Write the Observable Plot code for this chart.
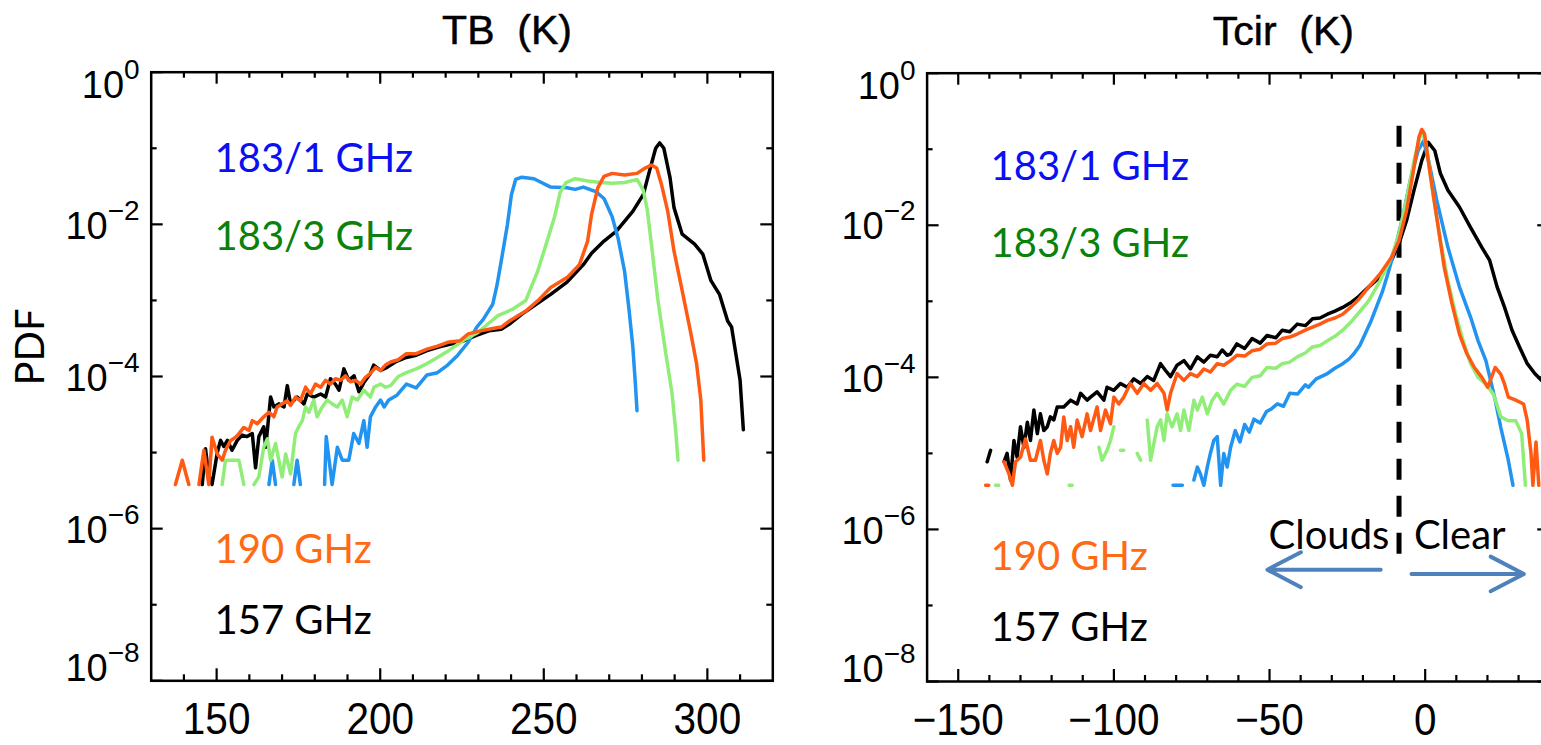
<!DOCTYPE html>
<html><head><meta charset="utf-8">
<script src="https://cdn.jsdelivr.net/npm/d3@7"></script>
<script src="https://cdn.jsdelivr.net/npm/@observablehq/plot@0.6"></script>
<style>
html,body{margin:0;padding:0;background:#fff;overflow:hidden;}
#wrap{position:relative;width:1541px;height:745px;overflow:hidden;background:#fff;}
#wrap svg{position:absolute;top:0;}
</style></head><body><div id="wrap"></div>
<script>
// ---- DATA: [temperature (K), log10(PDF)] pairs; null = gap; F = lowest plotted value
const F = -5.42;
const seriesNames = ["157 GHz", "183/1 GHz", "183/3 GHz", "190 GHz"];

// Left panel: TB (K)
const tb_157 = [[145.6,F],[146.6,-4.95],[147.6,-5.30],[148.6,F],[150.2,-5.00],[151.2,-4.84],[152.2,-4.92],[153.3,-4.84],[154.7,-4.97],[156.3,-4.84],[157.8,-4.77],[159.3,-4.79],[160.9,-4.75],[161.9,-5.20],[162.9,-4.79],[164.4,-4.66],[165.0,-4.93],[166.5,-4.27],[167.5,-4.40],[169.0,-4.36],[170.6,-4.40],[171.6,-4.12],[172.6,-4.36],[174.6,-4.27],[176.7,-4.36],[177.7,-4.23],[179.7,-4.27],[181.8,-4.23],[183.3,-4.27],[184.8,-4.03],[186.3,-4.10],[187.4,-4.18],[188.9,-3.90],[190.4,-4.05],[192.0,-3.99],[193.5,-4.20],[195.0,-4.08],[197.0,-3.96],[198.0,-3.85],[200.1,-3.92],[202.1,-3.88],[205.0,-3.80],[208.0,-3.75],[211.0,-3.72],[214.3,-3.66],[218.1,-3.61],[221.9,-3.57],[225.6,-3.53],[229.4,-3.46],[233.2,-3.40],[237.0,-3.38],[239.5,-3.31],[243.3,-3.18],[247.0,-3.07],[252.1,-2.92],[257.1,-2.76],[262.1,-2.53],[264.6,-2.38],[268.4,-2.22],[272.2,-2.09],[277.2,-1.83],[280.4,-1.61],[282.3,-1.30],[284.2,-1.00],[285.4,-0.93],[286.7,-1.00],[288.6,-1.39],[289.8,-1.78],[292.3,-2.13],[296.1,-2.26],[298.6,-2.39],[301.1,-2.74],[303.7,-2.92],[306.2,-3.27],[307.4,-3.35],[308.7,-3.70],[310.0,-4.05],[311.0,-4.70]];
const tb_190 = [[137.4,F],[139.5,-5.10],[141.5,F],null,[144.6,F],[146.1,-4.97],[147.6,F],[148.6,-4.80],[150.2,-5.02],[151.7,-5.10],[152.7,-4.97],[154.3,-4.84],[155.8,-4.80],[156.8,-4.75],[158.3,-4.67],[159.9,-4.71],[160.9,-4.58],[162.4,-4.62],[164.4,-4.53],[166.0,-4.47],[167.5,-4.53],[168.5,-4.40],[170.0,-4.36],[171.6,-4.32],[172.6,-4.38],[174.1,-4.27],[175.6,-4.32],[177.2,-4.14],[178.7,-4.23],[180.2,-4.10],[181.8,-4.14],[183.3,-4.05],[184.8,-4.10],[186.3,-4.03],[187.9,-4.05],[189.4,-3.99],[190.9,-4.07],[192.5,-4.05],[194.0,-4.10],[195.5,-4.01],[197.0,-3.96],[198.6,-3.88],[200.1,-3.92],[201.6,-3.85],[203.2,-3.81],[205.5,-3.78],[208.0,-3.70],[211.0,-3.70],[214.3,-3.64],[217.5,-3.60],[220.6,-3.55],[224.4,-3.53],[226.9,-3.44],[230.7,-3.40],[234.4,-3.37],[237.0,-3.35],[239.5,-3.27],[244.5,-3.14],[248.3,-3.00],[252.1,-2.83],[257.1,-2.70],[260.9,-2.53],[263.4,-2.22],[264.6,-1.87],[266.5,-1.52],[268.4,-1.37],[270.9,-1.33],[274.7,-1.35],[278.5,-1.33],[281.0,-1.26],[282.9,-1.22],[284.5,-1.26],[286.0,-1.48],[287.9,-1.83],[289.8,-2.35],[292.3,-2.87],[294.8,-3.40],[296.7,-3.83],[298.0,-4.31],[298.9,-5.10]];
const tb_183_3 = [[151.7,F],[152.7,-5.10],[154.8,-5.10],[156.8,-5.10],[158.3,F],null,[161.4,F],[162.9,-5.32],[164.4,-4.93],[165.5,-4.82],[166.5,-5.10],[168.0,-4.88],[169.0,-5.10],[170.0,-5.32],[171.1,-5.02],[172.6,-5.28],[174.1,-4.75],[175.1,-4.66],[176.2,-4.58],[177.2,-4.40],[178.2,-4.47],[179.7,-4.31],[180.7,-4.53],[182.3,-4.40],[183.8,-4.31],[185.3,-4.36],[186.9,-4.40],[188.4,-4.31],[189.9,-4.53],[191.4,-4.27],[193.0,-4.31],[195.0,-4.18],[197.0,-4.27],[198.1,-4.14],[200.1,-4.10],[201.6,-4.14],[203.2,-4.12],[205.5,-4.00],[208.0,-3.95],[211.0,-3.90],[214.3,-3.83],[217.5,-3.75],[220.9,-3.66],[225.6,-3.52],[229.9,-3.42],[233.2,-3.30],[236.0,-3.20],[240.7,-3.11],[244.5,-3.00],[248.1,-2.62],[250.8,-2.25],[253.3,-1.90],[255.0,-1.58],[256.8,-1.45],[259.6,-1.40],[263.4,-1.43],[267.2,-1.45],[271.0,-1.46],[274.7,-1.45],[278.5,-1.41],[280.4,-1.55],[281.6,-1.80],[282.9,-2.26],[284.8,-2.97],[287.3,-3.70],[289.2,-4.22],[290.4,-4.75],[291.0,-5.10]];
const tb_183_1 = [[166.0,F],[167.0,-5.10],[168.0,F],null,[173.6,F],[174.6,-5.10],[175.6,F],null,[183.0,F],[183.5,-4.79],[185.3,F],[186.9,-4.93],[188.4,-5.10],[190.4,-5.10],[191.9,-4.75],[193.5,-4.88],[195.0,-4.58],[196.0,-4.93],[197.0,-4.53],[198.6,-4.40],[200.1,-4.31],[201.2,-4.40],[202.6,-4.31],[205.0,-4.25],[208.0,-4.10],[211.0,-4.15],[214.3,-3.98],[217.5,-3.95],[220.6,-3.85],[223.7,-3.72],[226.9,-3.55],[229.5,-3.35],[231.5,-3.25],[234.4,-3.05],[235.7,-2.80],[237.0,-2.48],[238.9,-2.00],[240.1,-1.61],[241.4,-1.41],[243.3,-1.38],[247.0,-1.40],[252.1,-1.51],[257.1,-1.52],[259.6,-1.54],[262.1,-1.51],[265.9,-1.57],[268.4,-1.66],[270.9,-1.90],[272.8,-2.20],[274.7,-2.62],[276.0,-3.10],[277.2,-3.60],[278.0,-4.10],[278.5,-4.45]];

// Right panel: Tcir (K)
const tcir_157 = [[-140.7,-5.11],[-139.6,-4.96],null,[-135.3,-5.11],[-134.3,-5.00],[-133.2,-5.35],[-132.1,-4.83],[-131.1,-5.05],[-130.0,-4.65],[-128.9,-4.92],[-127.8,-4.59],[-126.8,-4.83],[-125.7,-4.43],[-124.6,-4.74],[-123.6,-4.48],[-122.5,-4.70],[-121.4,-4.65],[-120.4,-4.52],[-119.3,-4.56],[-118.2,-4.39],[-116.1,-4.39],[-113.9,-4.30],[-111.8,-4.35],[-110.7,-4.21],[-108.6,-4.30],[-107.5,-4.26],[-105.4,-4.19],[-103.2,-4.30],[-102.2,-4.13],[-100.0,-4.17],[-97.9,-4.08],[-95.7,-4.13],[-93.6,-4.02],[-91.4,-4.08],[-89.3,-3.99],[-87.2,-4.04],[-85.0,-3.82],[-83.4,-3.91],[-81.8,-3.99],[-79.7,-3.84],[-77.5,-3.78],[-75.4,-3.89],[-73.2,-3.73],[-71.1,-3.80],[-69.0,-3.71],[-66.8,-3.73],[-65.2,-3.64],[-63.6,-3.71],[-62.5,-3.69],[-60.5,-3.56],[-58.0,-3.62],[-55.6,-3.49],[-53.0,-3.55],[-50.8,-3.45],[-48.0,-3.48],[-45.9,-3.38],[-43.5,-3.40],[-41.1,-3.30],[-38.5,-3.32],[-36.2,-3.23],[-33.8,-3.22],[-31.4,-3.17],[-29.0,-3.13],[-26.5,-3.08],[-24.0,-3.02],[-21.7,-2.95],[-18.1,-2.81],[-14.5,-2.68],[-10.8,-2.46],[-8.4,-2.24],[-6.0,-1.94],[-3.6,-1.54],[-1.1,-1.15],[1.0,-0.91],[3.1,-1.02],[4.9,-1.32],[7.3,-1.54],[11.0,-1.76],[14.6,-2.03],[18.2,-2.29],[20.7,-2.46],[23.1,-2.81],[25.5,-3.08],[27.9,-3.38],[30.3,-3.60],[32.8,-3.82],[35.2,-3.95],[37.4,-4.04],[40.0,-4.10]];
const tcir_190 = [[-141.2,F],[-140.2,F],null,[-135.3,-5.11],[-133.7,-5.27],[-132.6,F],[-131.6,-5.11],[-130.0,-5.05],[-128.4,-4.81],[-126.8,-5.09],[-125.2,-5.09],[-123.6,-4.83],[-122.5,-5.09],[-121.4,-5.27],[-120.4,-5.00],[-119.3,-4.83],[-118.2,-5.00],[-117.1,-4.92],[-116.1,-4.52],[-115.0,-4.83],[-113.9,-4.65],[-112.9,-4.92],[-111.8,-4.56],[-110.2,-4.78],[-108.6,-4.48],[-107.5,-4.70],[-105.4,-4.39],[-104.3,-4.70],[-102.7,-4.43],[-101.1,-4.61],[-100.0,-4.26],[-98.4,-4.35],[-96.8,-4.26],[-94.7,-4.08],[-92.5,-4.21],[-90.4,-4.08],[-88.2,-4.17],[-86.1,-4.08],[-83.9,-4.21],[-82.9,-4.43],[-81.8,-4.21],[-79.7,-3.95],[-77.5,-4.04],[-75.4,-3.95],[-73.2,-3.99],[-71.1,-3.89],[-69.0,-3.93],[-66.8,-3.82],[-64.7,-3.84],[-62.5,-3.78],[-60.5,-3.71],[-58.0,-3.72],[-55.6,-3.65],[-53.0,-3.63],[-50.8,-3.56],[-48.0,-3.55],[-45.9,-3.49],[-43.5,-3.47],[-41.1,-3.43],[-38.5,-3.38],[-36.2,-3.34],[-33.8,-3.30],[-31.4,-3.25],[-29.0,-3.22],[-26.5,-3.17],[-24.0,-3.08],[-21.7,-2.99],[-18.1,-2.81],[-14.5,-2.64],[-10.8,-2.42],[-8.4,-2.20],[-6.0,-1.81],[-3.6,-1.24],[-2.0,-0.84],[-1.1,-0.74],[-0.2,-0.80],[1.3,-1.24],[3.7,-1.89],[6.1,-2.55],[8.6,-3.03],[11.0,-3.43],[13.4,-3.69],[15.8,-3.87],[18.2,-4.00],[20.1,-4.13],[21.3,-4.00],[22.5,-3.87],[24.3,-3.96],[25.5,-4.09],[26.7,-4.26],[29.1,-4.30],[31.6,-4.35],[32.8,-4.57],[34.0,-5.00],[34.6,F],[35.6,-4.85],[36.5,F]];
const tcir_183_3 = [[-138.0,F],[-137.0,F],null,[-114.4,F],[-113.4,F],null,[-104.8,-4.92],[-103.8,-5.09],[-102.2,-4.96],[-101.1,-4.83],[-100.0,-4.65],null,[-97.9,-4.96],[-96.8,-4.96],null,[-92.5,-5.00],[-91.4,-5.09],null,[-89.3,-4.56],[-88.2,-5.09],[-86.1,-4.65],[-85.0,-4.56],[-83.9,-4.83],[-82.9,-4.48],[-81.3,-4.65],[-79.7,-4.48],[-78.6,-4.70],[-77.5,-4.43],[-75.9,-4.70],[-74.3,-4.30],[-73.2,-4.43],[-71.6,-4.26],[-70.0,-4.48],[-68.4,-4.30],[-66.8,-4.21],[-64.7,-4.35],[-63.6,-4.26],[-62.5,-4.17],[-60.5,-4.09],[-58.0,-4.12],[-55.6,-4.00],[-53.0,-3.98],[-50.8,-3.87],[-48.0,-3.88],[-45.9,-3.82],[-43.5,-3.80],[-41.1,-3.73],[-38.5,-3.68],[-36.2,-3.60],[-33.8,-3.58],[-31.4,-3.52],[-29.0,-3.46],[-26.5,-3.38],[-24.0,-3.28],[-21.7,-3.17],[-18.1,-2.99],[-14.5,-2.73],[-10.8,-2.42],[-8.4,-2.11],[-6.0,-1.67],[-3.6,-1.15],[-1.7,-0.84],[-0.9,-0.78],[0.3,-0.93],[2.5,-1.59],[4.9,-2.20],[7.3,-2.73],[9.8,-3.17],[12.2,-3.52],[14.6,-3.82],[17.0,-4.00],[19.5,-4.09],[21.9,-4.22],[24.3,-4.52],[26.7,-4.57],[29.1,-4.57],[31.0,-4.74],[32.2,F]];
const tcir_183_1 = [[-81.0,F],[-78.0,F],null,[-74.3,-5.35],[-73.2,-5.18],[-72.2,-5.27],[-71.1,F],[-70.0,-5.18],[-69.0,-5.00],[-67.9,-4.83],[-66.8,-4.78],[-65.7,F],[-64.7,-5.00],[-63.6,-5.18],[-62.5,-4.92],[-61.0,-4.70],[-59.5,-4.85],[-58.0,-4.62],[-56.5,-4.72],[-55.0,-4.55],[-53.0,-4.60],[-51.0,-4.45],[-49.6,-4.42],[-47.5,-4.35],[-45.5,-4.38],[-43.5,-4.21],[-41.0,-4.22],[-38.5,-4.10],[-37.5,-4.13],[-35.0,-4.02],[-31.4,-3.95],[-29.0,-3.88],[-26.5,-3.82],[-24.5,-3.76],[-22.9,-3.69],[-21.0,-3.58],[-19.3,-3.43],[-17.5,-3.27],[-15.7,-3.08],[-13.8,-2.88],[-12.0,-2.64],[-9.6,-2.29],[-7.2,-1.89],[-4.8,-1.41],[-2.3,-1.02],[-0.5,-0.89],[1.3,-1.19],[3.7,-1.67],[7.3,-2.29],[11.0,-2.81],[14.6,-3.21],[17.0,-3.52],[19.5,-3.78],[21.3,-4.09],[22.5,-4.30],[24.3,-4.66],[26.7,-5.09],[28.2,F]];

// Axis ticks
const tbMajorTicks = [150, 200, 250, 300];
const tbMinorTicks = [140, 160, 170, 180, 190, 210, 220, 230, 240, 260, 270, 280, 290, 310];
const tcirMajorTicks = [-150, -100, -50, 0];
const tcirMinorTicks = [-140, -130, -120, -110, -90, -80, -70, -60, -40, -30, -20, -10, 10, 20, 30];
const pdfMajorTicks = [1e-8, 1e-6, 1e-4, 1e-2, 1];
const pdfMinorTicks = [1e-7, 1e-5, 1e-3, 1e-1];

// Annotations (right panel)
const cloudClearThreshold = [-8.4];
const cloudClearArrows = [
  {x1: -14.3, y1: 2.95e-7, x2: -50.7, y2: 2.95e-7},
  {x1: -4.4, y1: 2.6e-7, x2: 31.7, y2: 2.6e-7}
];
const cloudClearLabels = ["Clouds", "Clear"];

// ---- STYLE
const lineColors = {"157 GHz": "#000000", "183/1 GHz": "#2094f0", "183/3 GHz": "#90ee78", "190 GHz": "#ff5a14"};
const legendColors = {"183/1 GHz": "#0a10f2", "183/3 GHz": "#0a820a", "190 GHz": "#ff6a14", "157 GHz": "#000000"};
const legendOrder = ["183/1 GHz", "183/3 GHz", "190 GHz", "157 GHz"];

const toRows = arr => arr.map(p => p ? {x: p[0], pdf: Math.pow(10, p[1])} : {x: NaN, pdf: NaN});
const NS = "http://www.w3.org/2000/svg";

function makePanel(cfg) {
  const H = 745;
  const fw = cfg.width - cfg.ml - cfg.mr, fh = H - cfg.mt - cfg.mb;
  const tickStyle = {stroke: "#000", strokeWidth: 2.2};
  const marks = [
    Plot.tickX(cfg.xMajor, {...tickStyle, insetTop: fh - 12}),
    Plot.tickX(cfg.xMajor, {...tickStyle, insetBottom: fh - 12}),
    Plot.tickX(cfg.xMinor, {...tickStyle, insetTop: fh - 6}),
    Plot.tickX(cfg.xMinor, {...tickStyle, insetBottom: fh - 6}),
    Plot.tickY(pdfMajorTicks, {...tickStyle, insetRight: fw - 12}),
    Plot.tickY(pdfMajorTicks, {...tickStyle, insetLeft: fw - 12}),
    Plot.tickY(pdfMinorTicks, {...tickStyle, insetRight: fw - 6}),
    Plot.tickY(pdfMinorTicks, {...tickStyle, insetLeft: fw - 6}),
    Plot.axisX(cfg.xMajor, {tickSize: 0, tickPadding: 21.5, fontSize: 45, fontFamily: "Liberation Sans", label: null, stroke: "#000", strokeWidth: 0.6}),
    Plot.axisY(pdfMajorTicks, {tickSize: 0, tickPadding: 11.5, fontSize: 38, fontFamily: "Liberation Sans", label: null, stroke: "#000", strokeWidth: 0.5,
      tickFormat: d => "10^" + String(Math.round(Math.log10(d))).replace("-", "\u2212")}),
    ...(cfg.extraBefore || []),
    ...seriesNames.map(name => Plot.line(toRows(cfg.series[name]), {x: "x", y: "pdf", stroke: lineColors[name], strokeWidth: 3.5, strokeLinejoin: "round", strokeLinecap: "round"})),
    ...legendOrder.map((name, i) => Plot.text([name], {frameAnchor: "top-left", dx: cfg.legendDx, dy: cfg.legendDy[i], lineAnchor: "bottom", textAnchor: "start", fill: legendColors[name], fontSize: 40, fontFamily: "Lato"})),
    Plot.text([cfg.title], {frameAnchor: "top", dx: 45, dy: cfg.titleDy, lineAnchor: "bottom", fontSize: 41, fontFamily: "Liberation Sans", fill: "#000", stroke: "#000", strokeWidth: 0.5}),
    ...(cfg.extra || []),
    Plot.frame({stroke: "#000", strokeWidth: 2.5})
  ];
  const svg = Plot.plot({
    width: cfg.width, height: H,
    marginLeft: cfg.ml, marginRight: cfg.mr, marginTop: cfg.mt, marginBottom: cfg.mb,
    x: {domain: cfg.xDomain},
    y: {type: "log", domain: [1e-8, 1]},
    style: {background: "transparent", color: "#000"},
    marks
  });
  svg.style.left = cfg.left + "px";
  document.getElementById("wrap").appendChild(svg);
  // superscript exponents on the PDF axis
  svg.querySelectorAll('[aria-label="y-axis tick label"] text').forEach(t => {
    const parts = t.textContent.split("^");
    if (parts.length < 2) return;
    t.textContent = parts[0];
    const ts = document.createElementNS(NS, "tspan");
    ts.setAttribute("font-size", "28");
    ts.setAttribute("dy", "-19");
    ts.textContent = parts[1];
    t.appendChild(ts);
    if (parts[1] === "0") t.setAttribute("dy", "14");
    else if (parts[1] === "\u22128") t.setAttribute("dy", "-12");
    else t.setAttribute("dy", "2");
  });
  // narrow the x tick labels like the original vector font
  svg.querySelectorAll('[aria-label="x-axis tick label"] text').forEach(t => {
    const L = t.getComputedTextLength();
    t.setAttribute("textLength", (L * 0.9).toFixed(1));
    t.setAttribute("lengthAdjust", "spacingAndGlyphs");
  });
  return svg;
}

makePanel({
  left: 0, width: 780, ml: 150.7, mr: 7.7, mt: 71.7, mb: 64.7,
  xDomain: [130, 320], xMajor: tbMajorTicks, xMinor: tbMinorTicks,
  series: {"157 GHz": tb_157, "183/1 GHz": tb_183_1, "183/3 GHz": tb_183_3, "190 GHz": tb_190},
  title: "TB\u00a0\u00a0(K)", titleDy: -28,
  legendDx: 63.3, legendDy: [99.5, 177.5, 490.5, 561.5],
  extra: [
    Plot.text(["PDF"], {frameAnchor: "left", dx: -120.5, dy: 9, rotate: -90, fontSize: 40, fontFamily: "Lato", fill: "#000"})
  ]
});

makePanel({
  left: 780, width: 780, ml: 146.6, mr: 10.8, mt: 72.7, mb: 64,
  xDomain: [-160, 40], xMajor: tcirMajorTicks, xMinor: tcirMinorTicks,
  series: {"157 GHz": tcir_157, "183/1 GHz": tcir_183_1, "183/3 GHz": tcir_183_3, "190 GHz": tcir_190},
  title: "Tcir\u00a0\u00a0(K)", titleDy: -28,
  legendDx: 63.4, legendDy: [107, 184, 496.5, 568],
  extraBefore: [
    Plot.ruleX(cloudClearThreshold, {y1: 0.2, y2: 2.9e-7, stroke: "#000", strokeWidth: 5, strokeDasharray: "21,16"})
  ],
  extra: [
    Plot.arrow(cloudClearArrows, {x1: "x1", y1: "y1", x2: "x2", y2: "y2", stroke: "#4f81bd", strokeWidth: 4, headLength: 22, headAngle: 55}),
    Plot.text([cloudClearLabels[0]], {frameAnchor: "top-left", dx: 341.4, dy: 475.3, lineAnchor: "bottom", textAnchor: "start", fontSize: 40, fontFamily: "Lato", fill: "#000"}),
    Plot.text([cloudClearLabels[1]], {frameAnchor: "top-left", dx: 486.8, dy: 475.3, lineAnchor: "bottom", textAnchor: "start", fontSize: 40, fontFamily: "Lato", fill: "#000"})
  ]
});
</script></body></html>
